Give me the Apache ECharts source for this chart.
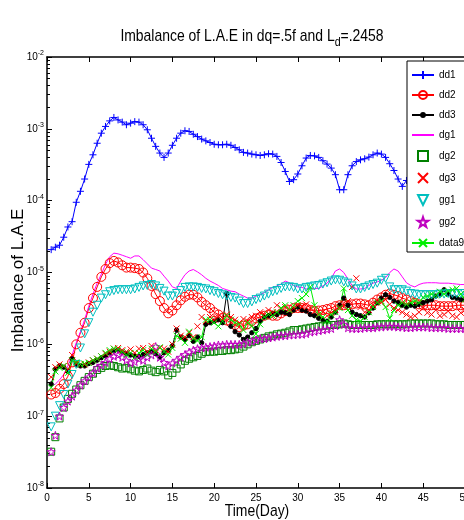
<!DOCTYPE html>
<html>
<head>
<meta charset="utf-8">
<title>Imbalance of L.A.E</title>
<script src="https://cdn.jsdelivr.net/npm/echarts@6/dist/echarts.min.js"></script>
<style>
  html, body { margin: 0; padding: 0; background: #fff; }
  #chart { width: 464px; height: 520px; }
</style>
</head>
<body>
<div id="chart"></div>
<script>
// Sampling times (days), one sample every half day
const days = Array.from({ length: 100 }, (_, i) => (i + 1) * 0.5);

// Series values, one per sample time
const dd1 = [
  2.08e-5, 2.25e-5, 2.4e-5, 3.1e-5, 4.3e-5, 5.1e-5, 9.5e-5, 1.35e-4, 2.0e-4, 3.2e-4,
  4.35e-4, 6.3e-4, 8.7e-4, 1.08e-3, 1.29e-3, 1.44e-3, 1.33e-3, 1.24e-3, 1.14e-3, 1.2e-3,
  1.26e-3, 1.24e-3, 1.14e-3, 9.7e-4, 7.4e-4, 5.7e-4, 4.6e-4, 4.0e-4, 4.6e-4, 5.9e-4,
  7.4e-4, 8.7e-4, 9.4e-4, 9.2e-4, 8.4e-4, 7.8e-4, 7.2e-4, 6.8e-4, 6.45e-4, 6.1e-4,
  6.0e-4, 6.0e-4, 6.1e-4, 5.9e-4, 5.5e-4, 5.1e-4, 4.7e-4, 4.6e-4, 4.45e-4, 4.35e-4,
  4.26e-4, 4.35e-4, 4.5e-4, 4.45e-4, 4.13e-4, 3.4e-4, 2.55e-4, 1.85e-4, 1.96e-4, 2.35e-4,
  3.06e-4, 3.92e-4, 4.26e-4, 4.2e-4, 4.0e-4, 3.6e-4, 3.23e-4, 2.84e-4, 2.3e-4, 1.42e-4,
  1.42e-4, 2.3e-4, 3.06e-4, 3.5e-4, 3.7e-4, 3.83e-4, 4.04e-4, 4.35e-4, 4.6e-4, 4.45e-4,
  4.0e-4, 3.27e-4, 2.63e-4, 2.0e-4, 1.58e-4, 1.91e-4
];
const dd2 = [
  2.0e-7, 2.1e-7, 2.4e-7, 2.8e-7, 3.6e-7, 5.6e-7, 1.0e-6, 1.45e-6, 2.0e-6, 3.2e-6,
  4.4e-6, 6.3e-6, 8.7e-6, 1.12e-5, 1.35e-5, 1.45e-5, 1.38e-5, 1.26e-5, 1.17e-5, 1.17e-5,
  1.15e-5, 1.12e-5, 1.0e-5, 8.3e-6, 6.5e-6, 5.0e-6, 4.0e-6, 3.2e-6, 2.7e-6, 2.95e-6,
  3.5e-6, 4.1e-6, 4.6e-6, 4.9e-6, 4.9e-6, 4.5e-6, 3.9e-6, 3.5e-6, 3.2e-6, 2.8e-6,
  2.6e-6, 2.35e-6, 2.15e-6, 2.0e-6, 1.86e-6, 1.74e-6, 1.82e-6, 1.9e-6, 2.1e-6, 2.3e-6,
  2.4e-6, 2.5e-6, 2.6e-6, 2.5e-6, 2.5e-6, 2.7e-6, 2.9e-6, 3.0e-6, 3.2e-6, 3.2e-6,
  3.2e-6, 3.2e-6, 3.0e-6, 2.9e-6, 2.95e-6, 3.0e-6, 3.1e-6, 3.2e-6, 3.4e-6, 3.5e-6,
  3.5e-6, 3.5e-6, 3.6e-6, 3.7e-6, 3.7e-6, 3.6e-6, 3.5e-6, 3.8e-6, 4.2e-6, 4.5e-6,
  4.9e-6, 5.1e-6, 4.9e-6, 4.7e-6, 4.4e-6, 4.2e-6, 4.0e-6, 3.8e-6, 3.6e-6, 3.5e-6,
  3.5e-6, 3.5e-6, 3.5e-6, 3.4e-6, 3.4e-6, 3.4e-6, 3.4e-6, 3.5e-6, 3.5e-6, 3.5e-6
];
const dd3 = [
  2.8e-7, 4.5e-7, 5.0e-7, 4.8e-7, 4.2e-7, 6.3e-7, 5.25e-7, 5.0e-7, 5.0e-7, 5.4e-7,
  5.6e-7, 6.0e-7, 6.5e-7, 6.9e-7, 7.6e-7, 8.1e-7, 8.3e-7, 7.8e-7, 7.4e-7, 7.1e-7,
  6.9e-7, 6.8e-7, 7.2e-7, 7.6e-7, 7.9e-7, 7.4e-7, 6.6e-7, 7.6e-7, 8.3e-7, 9.5e-7,
  1.58e-6, 1.26e-6, 1.17e-6, 1.32e-6, 1.1e-6, 1.26e-6, 1.05e-6, 1.9e-6, 2.0e-6, 2.1e-6,
  2.2e-6, 2.0e-6, 5.1e-6, 1.78e-6, 1.5e-6, 1.35e-6, 1.17e-6, 1.26e-6, 1.45e-6, 1.66e-6,
  2.1e-6, 2.4e-6, 2.5e-6, 2.7e-6, 2.6e-6, 2.8e-6, 2.75e-6, 2.6e-6, 3.0e-6, 3.3e-6,
  3.0e-6, 2.9e-6, 2.6e-6, 2.5e-6, 2.3e-6, 2.2e-6, 2.1e-6, 2.4e-6, 2.8e-6, 3.5e-6,
  4.4e-6, 3.5e-6, 2.8e-6, 2.6e-6, 2.5e-6, 2.4e-6, 2.75e-6, 3.2e-6, 3.8e-6, 4.4e-6,
  4.9e-6, 4.5e-6, 4.0e-6, 3.8e-6, 3.5e-6, 3.3e-6, 3.5e-6, 3.4e-6, 3.6e-6, 3.8e-6,
  4.0e-6, 4.2e-6, 4.7e-6, 5.0e-6, 5.75e-6, 5.0e-6, 4.5e-6, 4.4e-6, 4.2e-6, 4.2e-6
];
const dg1 = [
  2.6e-7, 2.8e-7, 3.2e-7, 3.8e-7, 5.0e-7, 7.1e-7, 1.05e-6, 1.5e-6, 2.2e-6, 3.4e-6,
  5.0e-6, 7.1e-6, 9.5e-6, 1.3e-5, 1.66e-5, 1.86e-5, 1.82e-5, 1.74e-5, 1.66e-5, 1.58e-5,
  1.7e-5, 1.7e-5, 1.51e-5, 1.32e-5, 1.15e-5, 1.1e-5, 1.05e-5, 8.9e-6, 7.6e-6, 6.3e-6,
  6.0e-6, 7.6e-6, 9.3e-6, 1.05e-5, 1.1e-5, 1.02e-5, 9.3e-6, 8.3e-6, 7.6e-6, 7.1e-6,
  6.6e-6, 6.0e-6, 5.75e-6, 5.5e-6, 5.4e-6, 5.0e-6, 4.7e-6, 4.4e-6, 4.4e-6, 4.7e-6,
  4.9e-6, 5.25e-6, 5.75e-6, 6.2e-6, 6.5e-6, 6.9e-6, 7.6e-6, 7.2e-6, 6.6e-6, 6.3e-6,
  6.2e-6, 5.9e-6, 6.0e-6, 6.0e-6, 6.0e-6, 6.5e-6, 7.1e-6, 8.3e-6, 1.05e-5, 1.12e-5,
  1.0e-5, 8.1e-6, 6.6e-6, 5.9e-6, 5.9e-6, 6.0e-6, 6.6e-6, 7.1e-6, 7.4e-6, 7.8e-6,
  8.5e-6, 1.0e-5, 1.12e-5, 1.05e-5, 8.7e-6, 7.2e-6, 6.6e-6, 6.3e-6, 6.8e-6, 7.1e-6,
  7.2e-6, 7.2e-6, 7.2e-6, 7.1e-6, 7.1e-6, 7.1e-6, 7.0e-6, 6.9e-6, 6.8e-6, 6.8e-6
];
const dg2 = [
  3.2e-8, 5.1e-8, 9.3e-8, 1.32e-7, 1.74e-7, 2.05e-7, 2.35e-7, 2.7e-7, 3.1e-7, 3.5e-7,
  3.9e-7, 4.4e-7, 4.7e-7, 5.0e-7, 5.1e-7, 5.0e-7, 4.8e-7, 4.6e-7, 4.7e-7, 4.5e-7,
  4.3e-7, 4.2e-7, 4.4e-7, 4.6e-7, 4.3e-7, 4.1e-7, 4.4e-7, 4.2e-7, 3.7e-7, 4.0e-7,
  4.6e-7, 5.25e-7, 5.9e-7, 6.3e-7, 6.6e-7, 6.9e-7, 7.4e-7, 7.8e-7, 7.9e-7, 7.9e-7,
  8.1e-7, 8.1e-7, 8.3e-7, 8.3e-7, 8.5e-7, 8.7e-7, 9.3e-7, 1.0e-6, 1.07e-6, 1.12e-6,
  1.17e-6, 1.23e-6, 1.29e-6, 1.32e-6, 1.38e-6, 1.41e-6, 1.45e-6, 1.51e-6, 1.58e-6, 1.58e-6,
  1.62e-6, 1.66e-6, 1.7e-6, 1.74e-6, 1.78e-6, 1.82e-6, 1.82e-6, 1.86e-6, 1.86e-6, 1.9e-6,
  1.95e-6, 1.9e-6, 1.86e-6, 1.86e-6, 1.86e-6, 1.86e-6, 1.86e-6, 1.86e-6, 1.9e-6, 1.9e-6,
  1.9e-6, 1.9e-6, 1.9e-6, 1.9e-6, 1.9e-6, 1.9e-6, 1.95e-6, 1.95e-6, 1.95e-6, 1.95e-6,
  1.95e-6, 1.95e-6, 1.9e-6, 1.9e-6, 1.9e-6, 1.86e-6, 1.86e-6, 1.86e-6, 1.86e-6, 1.86e-6
];
const dg3 = [
  3.5e-7, 4.8e-7, 5.25e-7, 5.0e-7, 4.5e-7, 7.1e-7, 5.4e-7, 5.25e-7, 5.25e-7, 5.6e-7,
  6.0e-7, 6.3e-7, 6.8e-7, 7.4e-7, 7.9e-7, 8.7e-7, 8.9e-7, 8.3e-7, 7.9e-7, 8.5e-7,
  7.6e-7, 8.7e-7, 8.9e-7, 7.9e-7, 9.5e-7, 8.3e-7, 8.9e-7, 8.7e-7, 7.9e-7, 1.0e-6,
  1.66e-6, 1.32e-6, 1.26e-6, 1.45e-6, 1.26e-6, 1.78e-6, 2.4e-6, 2.1e-6, 2.4e-6, 2.2e-6,
  2.4e-6, 2.3e-6, 2.6e-6, 2.4e-6, 2.2e-6, 2.0e-6, 2.25e-6, 2.1e-6, 2.4e-6, 2.5e-6,
  2.8e-6, 2.6e-6, 3.0e-6, 2.8e-6, 3.5e-6, 3.2e-6, 3.3e-6, 3.0e-6, 3.2e-6, 3.5e-6,
  3.3e-6, 3.6e-6, 3.2e-6, 2.9e-6, 2.6e-6, 2.8e-6, 2.5e-6, 2.75e-6, 3.0e-6, 3.3e-6,
  3.5e-6, 4.0e-6, 6.3e-6, 8.3e-6, 3.3e-6, 2.8e-6, 3.0e-6, 3.5e-6, 4.0e-6, 3.8e-6,
  4.2e-6, 3.6e-6, 3.2e-6, 3.0e-6, 2.8e-6, 2.6e-6, 2.4e-6, 2.5e-6, 2.8e-6, 3.2e-6,
  2.75e-6, 2.6e-6, 3.0e-6, 2.5e-6, 2.6e-6, 2.9e-6, 2.5e-6, 2.4e-6, 2.75e-6, 3.0e-6
];
const gg1 = [
  7.1e-8, 1.0e-7, 1.4e-7, 2.0e-7, 2.8e-7, 3.8e-7, 5.25e-7, 8.9e-7, 1.4e-6, 2.0e-6,
  2.8e-6, 3.5e-6, 4.4e-6, 4.9e-6, 5.4e-6, 5.6e-6, 5.75e-6, 5.75e-6, 5.75e-6, 5.75e-6,
  5.9e-6, 6.2e-6, 6.5e-6, 6.6e-6, 6.8e-6, 6.5e-6, 6.0e-6, 5.5e-6, 4.7e-6, 4.7e-6,
  5.1e-6, 5.6e-6, 6.2e-6, 6.3e-6, 6.3e-6, 6.2e-6, 6.0e-6, 5.9e-6, 5.6e-6, 5.4e-6,
  5.1e-6, 4.9e-6, 4.7e-6, 4.5e-6, 4.4e-6, 4.0e-6, 3.7e-6, 3.7e-6, 3.9e-6, 4.2e-6,
  4.4e-6, 4.7e-6, 5.0e-6, 5.4e-6, 5.6e-6, 6.0e-6, 6.3e-6, 6.3e-6, 6.2e-6, 5.9e-6,
  5.9e-6, 6.2e-6, 6.3e-6, 6.5e-6, 6.6e-6, 6.9e-6, 7.2e-6, 7.6e-6, 7.9e-6, 7.8e-6,
  7.4e-6, 7.1e-6, 6.5e-6, 5.9e-6, 5.9e-6, 6.2e-6, 6.5e-6, 6.8e-6, 7.1e-6, 7.8e-6,
  8.3e-6, 6.3e-6, 5.75e-6, 5.75e-6, 5.75e-6, 5.5e-6, 5.1e-6, 5.0e-6, 4.9e-6, 4.9e-6,
  4.9e-6, 4.9e-6, 4.9e-6, 5.0e-6, 5.0e-6, 5.1e-6, 5.1e-6, 5.1e-6, 5.1e-6, 5.1e-6
];
const gg2 = [
  3.2e-8, 5.4e-8, 1.0e-7, 1.32e-7, 1.62e-7, 1.9e-7, 2.3e-7, 2.7e-7, 3.1e-7, 3.5e-7,
  4.0e-7, 4.7e-7, 5.1e-7, 5.6e-7, 6.3e-7, 6.8e-7, 7.1e-7, 6.6e-7, 6.0e-7, 5.5e-7,
  5.75e-7, 6.3e-7, 6.0e-7, 6.6e-7, 7.1e-7, 9.3e-7, 6.6e-7, 5.6e-7, 5.0e-7, 5.5e-7,
  6.0e-7, 6.6e-7, 7.2e-7, 7.8e-7, 8.3e-7, 8.7e-7, 8.9e-7, 9.1e-7, 9.3e-7, 9.5e-7,
  9.8e-7, 9.8e-7, 1.0e-6, 1.0e-6, 1.0e-6, 1.0e-6, 1.02e-6, 1.07e-6, 1.1e-6, 1.15e-6,
  1.2e-6, 1.2e-6, 1.23e-6, 1.26e-6, 1.29e-6, 1.32e-6, 1.32e-6, 1.35e-6, 1.35e-6, 1.38e-6,
  1.38e-6, 1.41e-6, 1.48e-6, 1.51e-6, 1.55e-6, 1.58e-6, 1.62e-6, 1.66e-6, 1.82e-6, 2.2e-6,
  1.9e-6, 1.7e-6, 1.66e-6, 1.66e-6, 1.66e-6, 1.7e-6, 1.7e-6, 1.7e-6, 1.74e-6, 1.74e-6,
  1.78e-6, 1.78e-6, 1.78e-6, 1.74e-6, 1.74e-6, 1.7e-6, 1.7e-6, 1.74e-6, 1.74e-6, 1.74e-6,
  1.74e-6, 1.7e-6, 1.7e-6, 1.7e-6, 1.7e-6, 1.66e-6, 1.66e-6, 1.66e-6, 1.66e-6, 1.66e-6
];
const data9 = [
  2.5e-7, 4.2e-7, 4.7e-7, 5.0e-7, 4.0e-7, 6.0e-7, 5.6e-7, 5.25e-7, 5.4e-7, 5.5e-7,
  6.0e-7, 6.3e-7, 6.8e-7, 7.6e-7, 8.3e-7, 8.7e-7, 8.5e-7, 7.9e-7, 7.1e-7, 7.6e-7,
  6.6e-7, 7.6e-7, 8.3e-7, 7.2e-7, 8.7e-7, 7.9e-7, 9.1e-7, 7.9e-7, 7.2e-7, 8.9e-7,
  1.32e-6, 1.2e-6, 1.05e-6, 1.5e-6, 1.2e-6, 1.12e-6, 1.26e-6, 2.2e-6, 2.2e-6, 2.0e-6,
  1.78e-6, 2.1e-6, 2.5e-6, 2.2e-6, 2.0e-6, 1.9e-6, 1.58e-6, 2.0e-6, 1.82e-6, 1.4e-6,
  1.9e-6, 2.4e-6, 2.6e-6, 2.5e-6, 2.8e-6, 3.2e-6, 3.5e-6, 3.0e-6, 3.5e-6, 4.0e-6,
  4.4e-6, 5.0e-6, 6.3e-6, 3.5e-6, 2.6e-6, 2.4e-6, 2.1e-6, 2.6e-6, 2.8e-6, 3.2e-6,
  6.0e-6, 3.0e-6, 2.5e-6, 2.2e-6, 2.1e-6, 2.4e-6, 2.8e-6, 3.3e-6, 3.8e-6, 4.0e-6,
  3.3e-6, 2.3e-6, 3.0e-6, 3.5e-6, 3.8e-6, 3.6e-6, 3.8e-6, 4.0e-6, 3.8e-6, 4.5e-6,
  4.7e-6, 5.0e-6, 4.8e-6, 5.4e-6, 5.0e-6, 5.5e-6, 5.75e-6, 6.0e-6, 5.0e-6, 4.2e-6
];

// Axis ranges
const xTicks = [0, 5, 10, 15, 20, 25, 30, 35, 40, 45, 50];
const yMin = 1e-8;
const yMax = 1e-2;

const FONT = '"Liberation Sans", Arial, Helvetica, sans-serif';

// Marker shapes in the MATLAB style
const PLUS = 'path://M5,0L5,10M0,5L10,5';
const CROSS = 'path://M0,0L10,10M10,0L0,10';
const SQUARE = 'path://M0,0L10,0L10,10L0,10Z';
const TRI_DOWN = 'path://M0,0L10,0L5,10Z';
const STAR = 'path://M10,0L12.25,6.91L19.51,6.91L13.63,11.18L15.88,18.09L10,13.82L4.12,18.09L6.37,11.18L0.49,6.91L7.75,6.91Z';
// small dot centred in a 10x10 box, so it keeps its size inside the legend too
const DOT = 'path://M0,0M10,10M2.6,5A2.4,2.4,0,1,1,7.4,5A2.4,2.4,0,1,1,2.6,5Z';
const CLEAR = 'rgba(0,0,0,0)';

const toPairs = vals => vals.map((v, i) => [days[i], v]);

function lineSeries(name, vals, color, symbol, size, hollow) {
  return {
    name, type: 'line', data: toPairs(vals),
    symbol, symbolSize: size, showSymbol: true, showAllSymbol: true,
    lineStyle: { color, width: 1 },
    itemStyle: { color: hollow ? CLEAR : color, borderColor: color, borderWidth: 1 },
    emphasis: { disabled: true }, silent: true, z: 2
  };
}
function markerSeries(name, vals, color, symbol, size) {
  return {
    name, type: 'scatter', data: toPairs(vals),
    symbol, symbolSize: size,
    itemStyle: { color: CLEAR, borderColor: color, borderWidth: 1, opacity: 1 },
    emphasis: { disabled: true }, silent: true, z: 2
  };
}

// Minor ticks of the log axis at 2..9 within every decade (in exponent units)
const minorTicks = [];
for (let n = -8; n < -2; n++) {
  for (let k = 2; k <= 9; k++) minorTicks.push(n + Math.log10(k));
}

const chart = echarts.init(document.getElementById('chart'), null, { renderer: 'canvas' });

chart.setOption({
  animation: false,
  backgroundColor: '#ffffff',
  // Title and x-axis caption are set in a condensed face (horizontally squeezed text)
  graphic: { elements: [{
    type: 'text', x: 252, y: 24, scaleX: 0.82, silent: true,
    style: {
      text: 'Imbalance of L.A.E in dq=.5f and L{sub|d}=.2458',
      fontFamily: FONT, fontSize: 17, fill: '#000', align: 'center', verticalAlign: 'top',
      rich: { sub: { fontFamily: FONT, fontSize: 13, fill: '#000', padding: [12, 0, 0, 0] } }
    }
  }, {
    type: 'text', x: 257, y: 511, scaleX: 0.82, silent: true,
    style: {
      text: 'Time(Day)', fontFamily: FONT, fontSize: 17, fill: '#000',
      align: 'center', verticalAlign: 'middle'
    }
  }] },
  grid: { left: 47, right: -1, top: 57, bottom: 32, outerBoundsMode: 'none' },
  legend: {
    orient: 'vertical', left: 407, top: 61,
    padding: [9, 40, 4, 4], itemGap: 10, itemWidth: 22, itemHeight: 10,
    backgroundColor: '#ffffff', borderColor: '#000', borderWidth: 1, borderRadius: 0,
    textStyle: { fontFamily: FONT, fontSize: 10, color: '#000' },
    selectedMode: false, z: 10,
    data: ['dd1', 'dd2', 'dd3', { name: 'dg1', itemStyle: { opacity: 0 } }, 'dg2', 'dg3', 'gg1', 'gg2', 'data9']
  },
  xAxis: [{
    type: 'value', min: xTicks[0], max: xTicks[xTicks.length - 1], interval: 5, position: 'bottom',
    axisLine: { show: true, onZero: false, lineStyle: { color: '#000', width: 1.5 } },
    axisTick: { show: true, inside: true, length: 5, lineStyle: { color: '#000', width: 1 } },
    axisLabel: { fontFamily: FONT, fontSize: 10, color: '#000', margin: 5, showMinLabel: true, showMaxLabel: true },
    splitLine: { show: false }
  }, {
    type: 'value', min: xTicks[0], max: xTicks[xTicks.length - 1], interval: 5, position: 'top',
    axisLine: { show: true, onZero: false, lineStyle: { color: '#000', width: 1.5 } },
    axisTick: { show: true, inside: true, length: 5, lineStyle: { color: '#000', width: 1 } },
    axisLabel: { show: false }, splitLine: { show: false }
  }],
  yAxis: [{
    type: 'log', logBase: 10, min: yMin, max: yMax, splitNumber: 6, position: 'left',
    name: 'Imbalance of L.A.E', nameLocation: 'middle', nameGap: 20, nameMoveOverlap: false,
    nameTextStyle: { fontFamily: FONT, fontSize: 17, color: '#000', padding: [0, 16, 0, 0] },
    axisLine: { show: true, onZero: false, lineStyle: { color: '#000', width: 1.5 } },
    axisTick: { show: true, inside: true, length: 5, lineStyle: { color: '#000', width: 1 } },
    axisLabel: {
      fontFamily: FONT, fontSize: 10, color: '#000', margin: 3,
      showMinLabel: true, showMaxLabel: true,
      formatter: v => '10{e|' + Math.round(Math.log10(v)) + '}',
      rich: { e: { fontFamily: FONT, fontSize: 7, color: '#000', padding: [0, 0, 7, 0] } }
    },
    splitLine: { show: false }
  }, {
    type: 'value', min: -8, max: -2, position: 'left', offset: 0,
    axisLine: { show: false },
    axisTick: { show: true, inside: true, length: 3, customValues: minorTicks, lineStyle: { color: '#000', width: 1 } },
    axisLabel: { show: false }, splitLine: { show: false }
  }],
  series: [
    lineSeries('dd1', dd1, '#0000ff', PLUS, 7, false),
    lineSeries('dd2', dd2, '#ff0000', 'circle', 9, true),
    lineSeries('dd3', dd3, '#000000', DOT, 9, false),
    lineSeries('dg1', dg1, '#ff00ff', 'none', 2, false),
    markerSeries('dg2', dg2, '#008000', SQUARE, 7),
    markerSeries('dg3', dg3, '#ff0000', CROSS, 6),
    markerSeries('gg1', gg1, '#00bfbf', TRI_DOWN, 8),
    markerSeries('gg2', gg2, '#bf00bf', STAR, 8),
    lineSeries('data9', data9, '#00ee00', CROSS, 6, false)
  ]
});
</script>
</body>
</html>
